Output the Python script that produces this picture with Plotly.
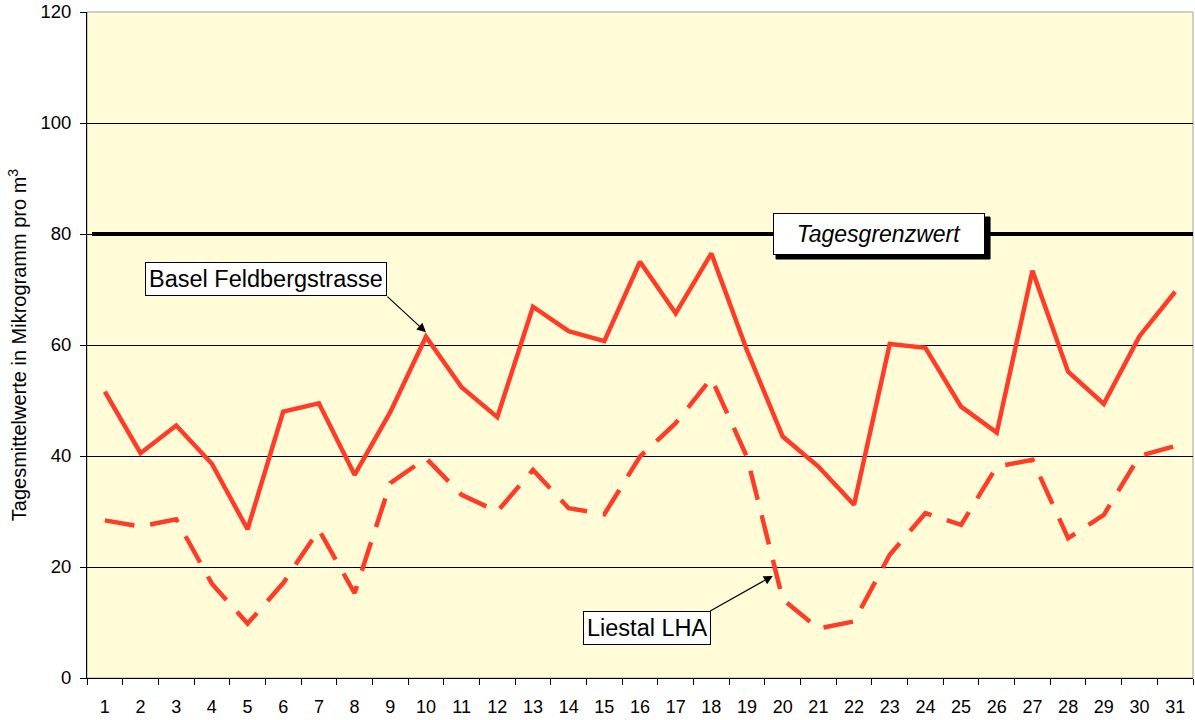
import plotly.graph_objects as go

days = [str(d) for d in range(1, 32)]
basel = [51.6, 40.5, 45.5, 38.6, 26.8, 48.0, 49.5, 36.6, 47.9, 61.5,
         52.4, 47.0, 66.9, 62.5, 60.7, 75.0, 65.7, 76.5, 59.0, 43.5,
         38.1, 31.2, 60.2, 59.5, 48.9, 44.2, 73.4, 55.2, 49.4, 61.6, 69.6]
liestal = [28.4, 27.3, 28.6, 17.0, 9.8, 17.1, 26.7, 15.3, 35.1, 39.6,
           33.0, 30.0, 37.5, 30.6, 29.5, 39.9, 45.9, 54.0, 39.8, 14.2,
           8.9, 10.2, 22.2, 29.7, 27.6, 38.1, 39.3, 25.2, 29.4, 40.0, 41.8]
limit_value = 80
y_ticks = [0, 20, 40, 60, 80, 100, 120]

FONT = "Liberation Sans, Arial, sans-serif"
RED = "#FF3C28"

fig = go.Figure()
fig.add_trace(go.Scatter(x=days, y=basel, mode="lines", name="Basel Feldbergstrasse",
                         line=dict(color=RED, width=4.5)))
fig.add_trace(go.Scatter(x=days, y=liestal, mode="lines", name="Liestal LHA",
                         line=dict(color=RED, width=4.5, dash="30px,16px")))

fig.add_shape(type="rect", xref="paper", yref="paper", x0=0, x1=1, y0=0, y1=1,
              line=dict(color="#A0A0A0", width=1), layer="below")
fig.add_shape(type="line", xref="paper", yref="y", x0=0.0045, x1=1,
              y0=limit_value, y1=limit_value, line=dict(color="black", width=4))
# shadow of the limit label box
fig.add_shape(type="rect", xref="x", yref="y", xsizemode="pixel", ysizemode="pixel",
              xanchor=21.7, yanchor=limit_value, x0=-103, x1=111, y0=17, y1=-25,
              fillcolor="black", line=dict(color="black", width=1))

ann_font = dict(family=FONT, size=23.5, color="black")
fig.add_annotation(x=4.52, y=71.9, text="Basel Feldbergstrasse", showarrow=False,
                   bgcolor="white", bordercolor="black", borderwidth=1, borderpad=3,
                   font=ann_font)
fig.add_annotation(x=9, y=62.3, text="", showarrow=True, ax=-40, ay=-37,
                   arrowhead=2, arrowsize=1.5, arrowwidth=1.2, arrowcolor="black")
fig.add_annotation(x=15.19, y=9.1, text="Liestal LHA", showarrow=False,
                   bgcolor="white", bordercolor="black", borderwidth=1, borderpad=3,
                   font=ann_font)
fig.add_annotation(x=18.72, y=18.4, text="", showarrow=True, ax=-64, ay=36,
                   arrowhead=2, arrowsize=1.5, arrowwidth=1.2, arrowcolor="black")
fig.add_annotation(x=21.7, y=limit_value, text="<i>Tagesgrenzwert</i>", showarrow=False,
                   width=206, height=36,
                   bgcolor="white", bordercolor="black", borderwidth=1, borderpad=2,
                   font=dict(family=FONT, size=23, color="black"))

fig.update_layout(
    width=1195, height=720,
    margin=dict(l=87, r=2, t=12, b=42),
    paper_bgcolor="white", plot_bgcolor="#FFFCD7",
    showlegend=False,
    font=dict(family=FONT, size=18, color="black"),
)
fig.update_xaxes(type="category", tickson="boundaries", ticks="outside", ticklen=6,
                 tickcolor="black", showline=True, linecolor="black", linewidth=1,
                 showgrid=False, range=[-0.5, 30.5], tickfont=dict(size=18),
                 ticklabelstandoff=12)
fig.update_yaxes(range=[0, 120], tickvals=y_ticks, ticks="outside", ticklen=6,
                 tickcolor="black", showline=True, linecolor="black", linewidth=1,
                 showgrid=True, gridcolor="black", gridwidth=1, zeroline=False,
                 tickfont=dict(size=18.5), ticklabelstandoff=5,
                 title=dict(text="Tagesmittelwerte in Mikrogramm pro m<sup>3</sup>",
                            font=dict(size=20), standoff=8))

fig.write_html("out.html", config={"displayModeBar": False},
               post_script="document.body.style.margin='0';")
